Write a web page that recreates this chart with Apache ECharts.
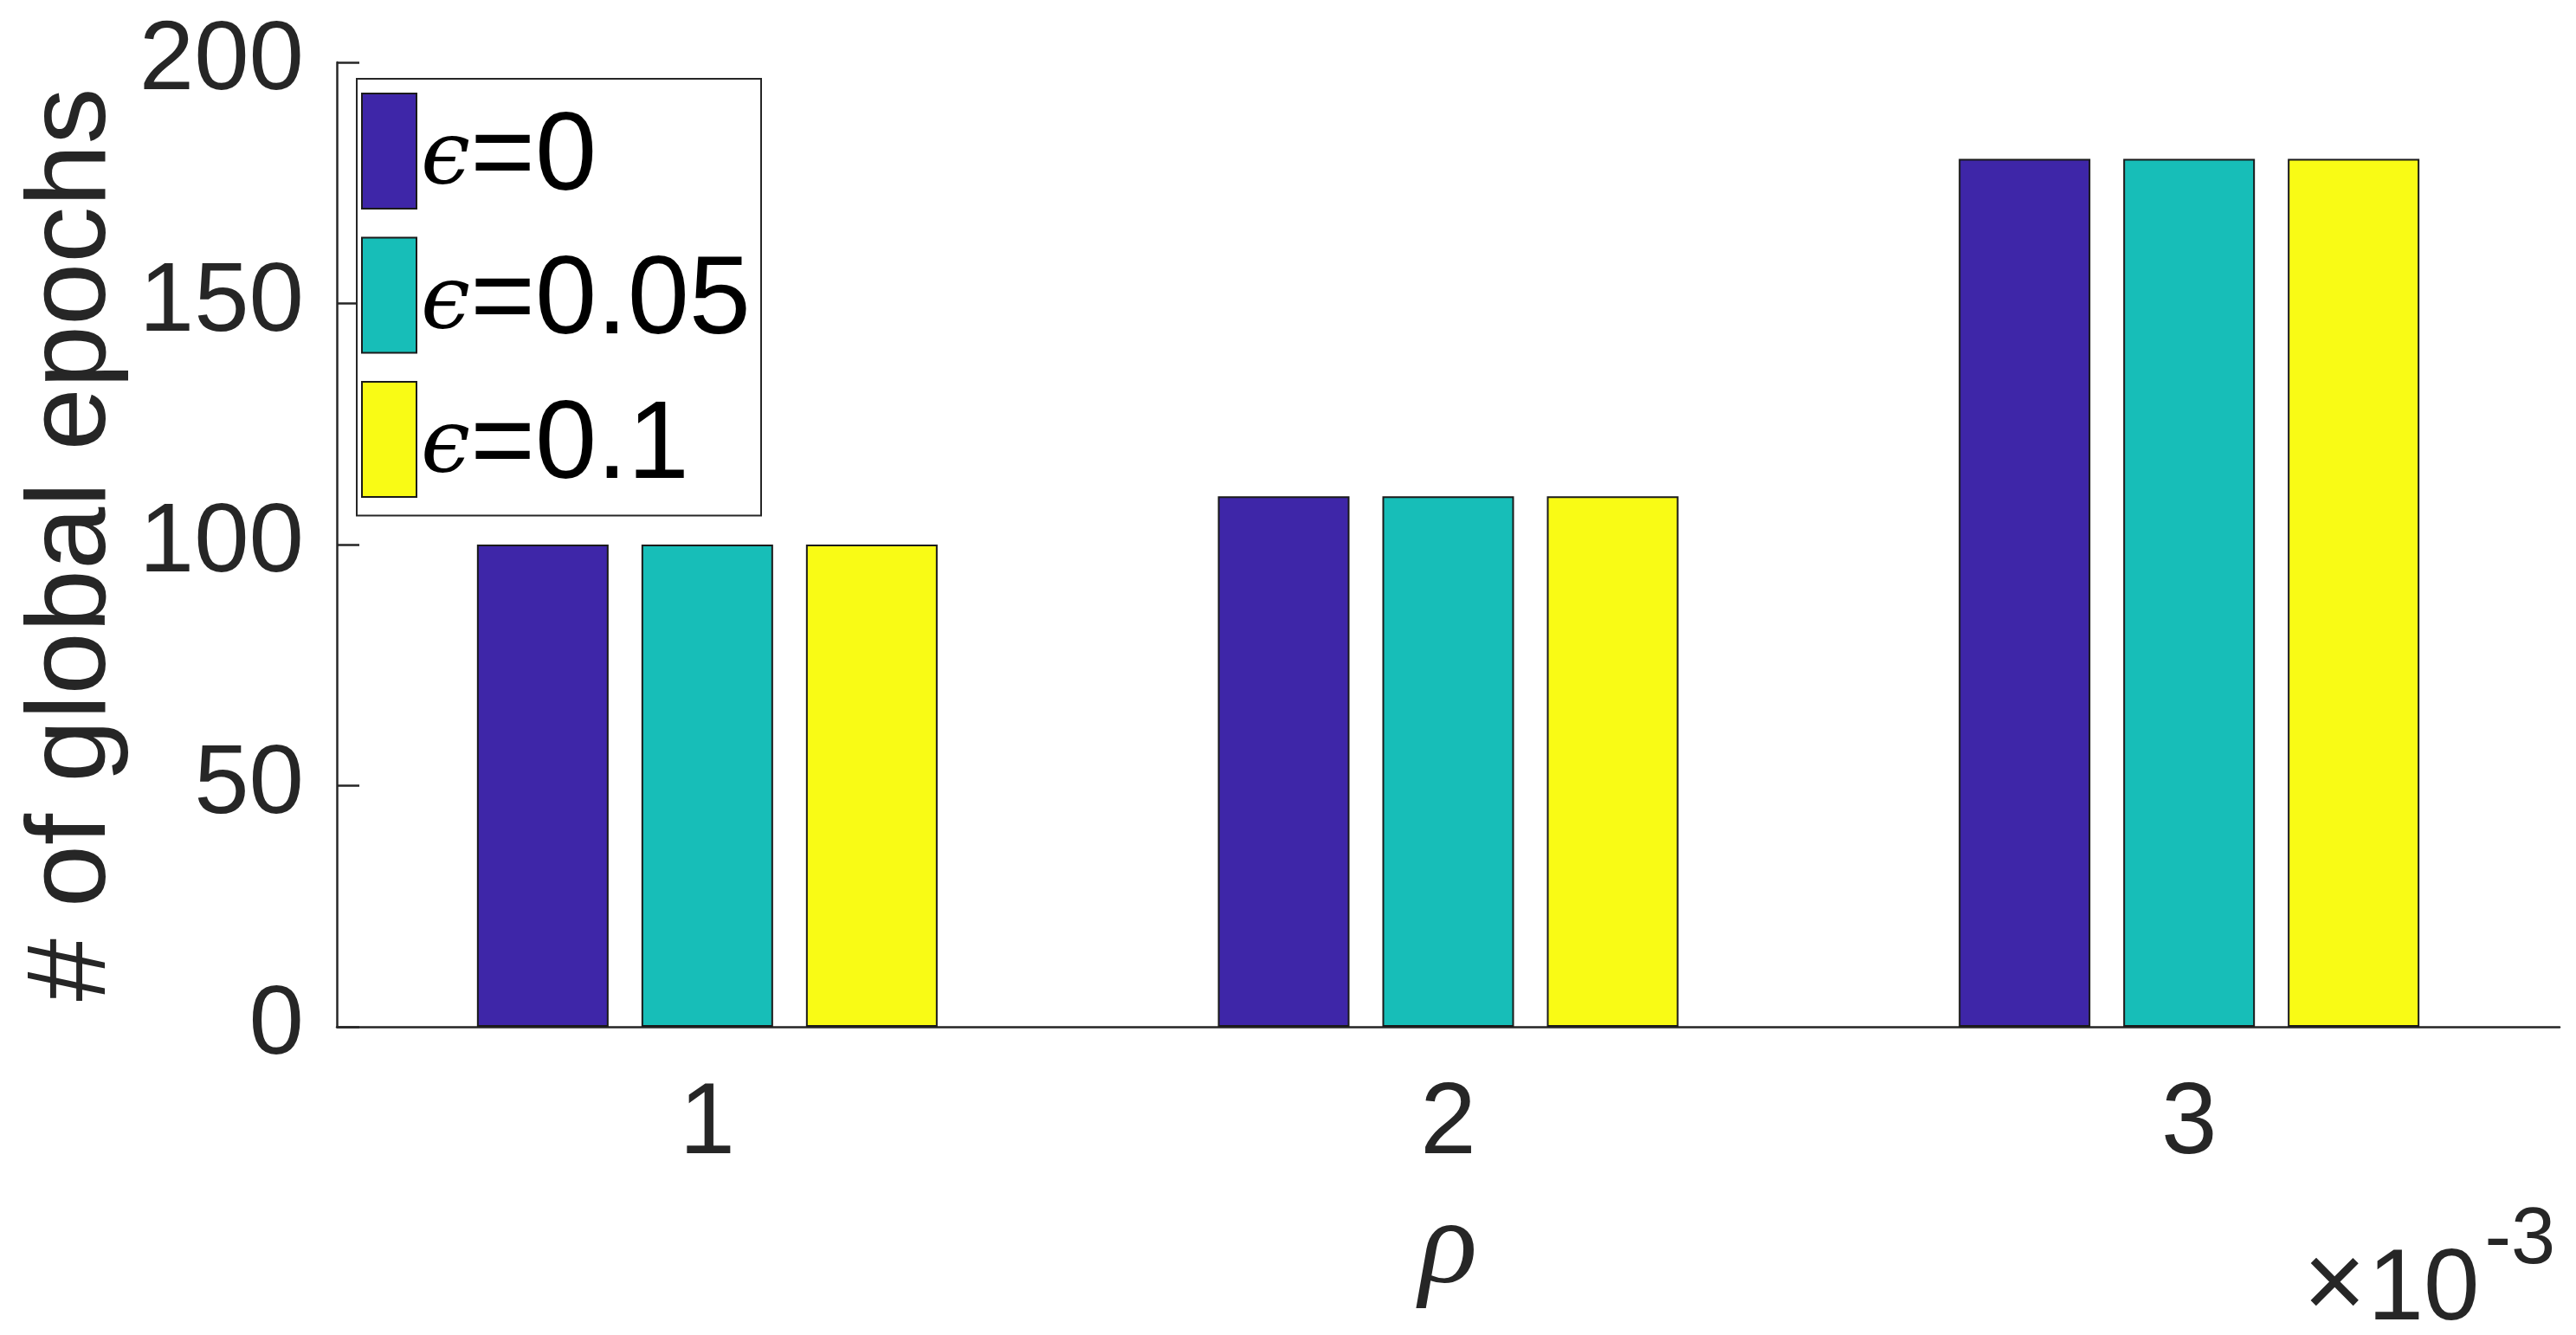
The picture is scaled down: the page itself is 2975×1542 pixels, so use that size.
<!DOCTYPE html>
<html>
<head>
<meta charset="utf-8">
<script src="https://cdn.jsdelivr.net/npm/echarts@6/dist/echarts.min.js"></script>
<style>
  html, body { margin: 0; padding: 0; background: #fff; }
  #chart { width: 2975px; height: 1542px; }
</style>
</head>
<body>
<div id="chart"></div>
<script>
// rho values (x 10^-3)
var categories = ['1', '2', '3'];
// epsilon values, one series each
var epsNames = ['0', '0.05', '0.1'];
var epochsEps0 = [100, 110, 180];
var epochsEps005 = [100, 110, 180];
var epochsEps01 = [100, 110, 180];
var barColors = ['#3e26a8', '#17beb8', '#f9fb15'];

var axisColor = '#262626';
var sans = 'Liberation Sans, Arial, Helvetica, sans-serif';

var chart = echarts.init(document.getElementById('chart'));

var seriesData = [epochsEps0, epochsEps005, epochsEps01];
var series = epsNames.map(function (n, i) {
    return {
        name: n,
        type: 'bar',
        data: seriesData[i],
        barWidth: 152,
        barGap: '25%',
        itemStyle: {
            color: barColors[i],
            borderColor: '#1a1a1a',
            borderWidth: 2
        }
    };
});

option = {
    backgroundColor: '#fff',
    animation: false,
    grid: {
        left: 389,
        top: 72,
        right: 19,
        bottom: 356
    },
    legend: {
        orient: 'vertical',
        left: 412,
        top: 91,
        itemWidth: 63,
        itemHeight: 133,
        itemGap: 26,
        itemTextGap: 10,
        padding: [16, 12, 15, 5],
        backgroundColor: '#fff',
        borderColor: axisColor,
        borderWidth: 2,
        icon: 'rect',
        itemStyle: {
            borderColor: '#1a1a1a',
            borderWidth: 2
        },
        formatter: function (name) {
            return '{e|\u03f5}{t|=' + name + '}';
        },
        textStyle: {
            color: '#000',
            rich: {
                e: {
                    fontFamily: 'DejaVu Serif',
                    fontStyle: 'italic',
                    fontSize: 102,
                    color: '#000',
                    padding: [22, 0, 0, 0]
                },
                t: {
                    fontFamily: sans,
                    fontSize: 128,
                    color: '#000',
                    padding: [18, 0, 0, 0]
                }
            }
        },
        data: epsNames
    },
    xAxis: {
        type: 'category',
        data: categories,
        name: '\u03c1',
        nameLocation: 'middle',
        nameGap: 188,
        nameTextStyle: {
            fontFamily: 'Liberation Serif',
            fontStyle: 'italic',
            fontSize: 140,
            color: axisColor
        },
        axisLine: {
            lineStyle: { color: axisColor, width: 2.5 }
        },
        axisTick: {
            show: true,
            inside: true,
            alignWithLabel: true,
            length: 26,
            lineStyle: { color: axisColor, width: 2.5 }
        },
        axisLabel: {
            fontFamily: sans,
            fontSize: 116,
            color: axisColor,
            margin: 56
        }
    },
    yAxis: {
        type: 'value',
        min: 0,
        max: 200,
        interval: 50,
        name: '# of global epochs',
        nameLocation: 'middle',
        nameGap: 215,
        nameTextStyle: {
            fontFamily: sans,
            fontSize: 130,
            color: axisColor
        },
        axisLine: {
            show: true,
            lineStyle: { color: axisColor, width: 2.5 }
        },
        axisTick: {
            show: true,
            inside: true,
            length: 26,
            lineStyle: { color: axisColor, width: 2.5 }
        },
        splitLine: { show: false },
        axisLabel: {
            fontFamily: sans,
            fontSize: 114,
            color: axisColor,
            margin: 38
        }
    },
    graphic: [
        {
            type: 'text',
            left: 2660,
            top: 1388,
            style: {
                text: '{x|\u00d7}{n|10}{s|-3}',
                rich: {
                    x: { fontFamily: sans, fontSize: 124, fill: axisColor, verticalAlign: 'bottom', padding: [38, 2, 0, 0] },
                    n: { fontFamily: sans, fontSize: 116, fill: axisColor, verticalAlign: 'bottom', padding: [38, 0, 0, 0] },
                    s: { fontFamily: sans, fontSize: 92, fill: axisColor, verticalAlign: 'top', padding: [0, 0, 0, 6] }
                }
            }
        }
    ],
    series: series
};

chart.setOption(option);
</script>
</body>
</html>
